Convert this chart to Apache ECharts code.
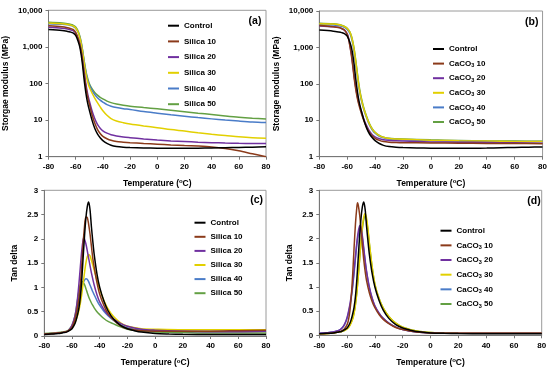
<!DOCTYPE html>
<html><head><meta charset="utf-8">
<script src="https://cdn.jsdelivr.net/npm/echarts@6/dist/echarts.min.js"></script>
<style>html,body{margin:0;padding:0;background:#fff}#c{width:550px;height:369px}</style>
</head><body><div id="c"></div><script>
// ---- Data: [temperature (°C), value] ----
const ctrlMod = [[-80,3000],[-70,2800],[-66,2650],[-64,2550],[-62,2400],[-60,2050],[-58,1350],[-57,1000],[-56,620],[-55,330],[-54,150],[-53,75],[-52,42],[-51,27],[-50,19],[-48,10],[-46,6],[-44,4.2],[-42,3.3],[-40,2.75],[-37,2.3],[-34,2.05],[-30,1.9],[-25,1.82],[-20,1.78],[-10,1.74],[0,1.71],[10,1.7],[20,1.7],[30,1.71],[40,1.73],[50,1.76],[60,1.79],[70,1.82],[80,1.86]];
const sil10Mod = [[-80,3800],[-70,3550],[-66,3350],[-64,3200],[-62,3000],[-60,2500],[-58,1600],[-57,1150],[-56,750],[-55,420],[-54,210],[-53,110],[-52,62],[-51,40],[-50,28],[-48,14],[-46,8.3],[-44,5.6],[-42,4.3],[-40,3.6],[-37,3.1],[-34,2.8],[-30,2.6],[-25,2.5],[-20,2.42],[-10,2.3],[0,2.2],[10,2.1],[20,2.02],[30,1.95],[40,1.85],[50,1.68],[60,1.45],[70,1.2],[80,1.0]];
const sil20Mod = [[-80,3450],[-70,3250],[-66,3100],[-64,2950],[-62,2800],[-60,2400],[-58,1600],[-57,1200],[-56,800],[-55,460],[-54,240],[-53,130],[-52,75],[-51,48],[-50,34],[-48,18],[-46,11],[-44,7.6],[-42,6],[-40,5.1],[-37,4.4],[-34,4.0],[-30,3.7],[-25,3.45],[-20,3.3],[-10,3.05],[0,2.85],[10,2.7],[20,2.6],[30,2.5],[40,2.42],[50,2.36],[60,2.32],[70,2.3],[80,2.3]];
const sil30Mod = [[-80,4500],[-70,4300],[-66,4100],[-64,3950],[-62,3750],[-60,3300],[-58,2400],[-57,1800],[-56,1250],[-55,750],[-54,420],[-53,240],[-52,150],[-51,105],[-50,80],[-48,55],[-46,40],[-44,30],[-42,23],[-40,18],[-37,13.5],[-34,11],[-30,9.5],[-25,8.5],[-20,7.8],[-10,6.9],[0,6.2],[10,5.5],[20,5.0],[30,4.5],[40,4.1],[50,3.8],[60,3.5],[70,3.3],[80,3.2]];
const sil40Mod = [[-80,4300],[-70,4150],[-66,4000],[-64,3850],[-62,3650],[-60,3250],[-58,2400],[-57,1850],[-56,1300],[-55,800],[-54,450],[-53,260],[-52,165],[-51,118],[-50,92],[-48,65],[-46,50],[-44,41],[-42,35],[-40,31],[-37,26.5],[-34,24],[-30,22],[-25,20.5],[-20,19.5],[-10,17.2],[0,15.5],[10,14],[20,12.8],[30,11.7],[40,10.8],[50,10],[60,9.4],[70,8.9],[80,8.6]];
const sil50Mod = [[-80,4700],[-70,4500],[-66,4300],[-64,4150],[-62,3950],[-60,3500],[-58,2600],[-57,2000],[-56,1400],[-55,850],[-54,480],[-53,280],[-52,180],[-51,130],[-50,100],[-48,72],[-46,57],[-44,48],[-42,42],[-40,38],[-37,33],[-34,30],[-30,27.5],[-25,25.5],[-20,24],[-10,22],[0,20.3],[10,18.6],[20,17],[30,15.5],[40,14.2],[50,13],[60,12],[70,11.3],[80,10.8]];
const ca10Mod = [[-80,4000],[-70,3700],[-66,3500],[-64,3300],[-62,3000],[-60,2300],[-59,1700],[-58,1050],[-57,600],[-56,300],[-55,140],[-54,75],[-53,45],[-52,30],[-50,16],[-48,9.5],[-46,6.3],[-44,4.6],[-42,3.7],[-40,3.2],[-37,2.8],[-34,2.6],[-30,2.5],[-25,2.45],[-20,2.42],[0,2.38],[20,2.35],[40,2.32],[60,2.3],[80,2.28]];
const ca20Mod = [[-80,3900],[-70,3700],[-66,3500],[-64,3300],[-62,3000],[-60,2350],[-59,1800],[-58,1100],[-57,650],[-56,330],[-55,160],[-54,85],[-53,50],[-52,33],[-50,18],[-48,10.5],[-46,7],[-44,5],[-42,4],[-40,3.5],[-37,3.1],[-34,2.9],[-30,2.8],[-25,2.72],[-20,2.68],[0,2.55],[20,2.5],[40,2.45],[60,2.4],[80,2.35]];
const ca30Mod = [[-80,4500],[-70,4400],[-66,4200],[-64,4000],[-62,3750],[-60,3300],[-58,2600],[-57,2000],[-56,1400],[-55,850],[-54,450],[-53,220],[-52,110],[-51,62],[-50,40],[-48,20],[-46,12],[-44,7.8],[-42,5.7],[-40,4.6],[-37,3.8],[-34,3.4],[-30,3.15],[-25,3.05],[-20,3.0],[0,2.85],[20,2.75],[40,2.68],[60,2.62],[80,2.6]];
const ca40Mod = [[-80,4200],[-70,4100],[-66,3950],[-64,3800],[-62,3550],[-60,3100],[-58,2400],[-57,1850],[-56,1250],[-55,750],[-54,400],[-53,200],[-52,100],[-51,58],[-50,37],[-48,19],[-46,11.3],[-44,7.3],[-42,5.4],[-40,4.4],[-37,3.65],[-34,3.3],[-30,3.05],[-25,2.95],[-20,2.9],[0,2.78],[20,2.7],[40,2.65],[60,2.62],[80,2.6]];
const ca50Mod = [[-80,4600],[-70,4450],[-66,4250],[-64,4050],[-62,3800],[-60,3350],[-58,2650],[-57,2050],[-56,1450],[-55,900],[-54,480],[-53,240],[-52,120],[-51,68],[-50,43],[-48,21],[-46,12.5],[-44,8],[-42,5.8],[-40,4.7],[-37,3.85],[-34,3.45],[-30,3.2],[-25,3.1],[-20,3.05],[0,2.9],[20,2.8],[40,2.72],[60,2.68],[80,2.65]];

const ctrlTan = [[-80,0.03],[-75,0.04],[-70,0.05],[-66,0.07],[-64,0.08],[-62,0.11],[-60,0.15],[-58,0.25],[-57,0.33],[-56,0.44],[-55,0.58],[-54,0.8],[-53,1.15],[-52,1.6],[-51,2.05],[-50,2.42],[-49,2.66],[-48,2.76],[-47,2.6],[-46,2.25],[-45,1.95],[-44,1.68],[-42,1.28],[-40,1.0],[-37,0.72],[-34,0.52],[-30,0.35],[-25,0.22],[-20,0.15],[-15,0.11],[-10,0.08],[0,0.05],[10,0.04],[20,0.035],[40,0.03],[60,0.03],[80,0.03]];
const sil10Tan = [[-80,0.04],[-70,0.06],[-64,0.09],[-62,0.12],[-60,0.18],[-58,0.33],[-57,0.45],[-56,0.6],[-55,0.78],[-54,1.05],[-53,1.45],[-52,1.9],[-51,2.25],[-50,2.45],[-49,2.44],[-48,2.3],[-47,2.1],[-46,1.85],[-45,1.6],[-44,1.42],[-42,1.1],[-40,0.86],[-37,0.63],[-34,0.46],[-30,0.33],[-25,0.21],[-20,0.15],[-10,0.11],[0,0.1],[20,0.1],[40,0.1],[60,0.11],[80,0.12]];
const sil20Tan = [[-80,0.04],[-70,0.06],[-64,0.09],[-62,0.13],[-60,0.22],[-58,0.4],[-57,0.55],[-56,0.78],[-55,1.08],[-54,1.42],[-53,1.75],[-52,1.98],[-51.5,2.03],[-51,2.0],[-50,1.9],[-49,1.76],[-48,1.6],[-47,1.45],[-46,1.3],[-44,1.05],[-42,0.85],[-40,0.7],[-37,0.55],[-34,0.44],[-30,0.35],[-25,0.26],[-20,0.2],[-10,0.14],[0,0.12],[20,0.1],[40,0.09],[60,0.09],[80,0.1]];
const sil30Tan = [[-80,0.04],[-70,0.06],[-64,0.09],[-62,0.12],[-60,0.17],[-58,0.27],[-56,0.42],[-55,0.53],[-54,0.67],[-53,0.85],[-52,1.08],[-51,1.3],[-50,1.5],[-49,1.63],[-48,1.68],[-47,1.65],[-46,1.56],[-45,1.46],[-44,1.36],[-42,1.15],[-40,0.96],[-37,0.73],[-34,0.56],[-30,0.4],[-25,0.27],[-20,0.2],[-10,0.15],[0,0.14],[20,0.13],[40,0.13],[60,0.13],[80,0.13]];
const sil40Tan = [[-80,0.04],[-70,0.06],[-64,0.09],[-62,0.13],[-60,0.2],[-58,0.33],[-57,0.43],[-56,0.56],[-55,0.72],[-54,0.88],[-53,1.0],[-52,1.09],[-51,1.15],[-50,1.18],[-49,1.17],[-48,1.12],[-47,1.05],[-46,0.98],[-45,0.91],[-44,0.85],[-42,0.73],[-40,0.63],[-37,0.51],[-34,0.42],[-30,0.32],[-25,0.23],[-20,0.17],[-10,0.12],[0,0.11],[20,0.1],[40,0.1],[60,0.1],[80,0.1]];
const sil50Tan = [[-80,0.05],[-70,0.07],[-64,0.1],[-62,0.14],[-60,0.22],[-58,0.4],[-57,0.55],[-56,0.75],[-55,0.93],[-54,1.05],[-53,1.11],[-52.5,1.12],[-52,1.11],[-51,1.06],[-50,0.98],[-49,0.89],[-48,0.81],[-47,0.74],[-46,0.68],[-45,0.63],[-44,0.58],[-42,0.5],[-40,0.44],[-37,0.36],[-34,0.3],[-30,0.25],[-25,0.19],[-20,0.14],[-10,0.1],[0,0.08],[20,0.07],[40,0.06],[60,0.06],[80,0.06]];
const ca10Tan = [[-80,0.03],[-70,0.05],[-66,0.07],[-64,0.09],[-62,0.13],[-60,0.22],[-59,0.32],[-58,0.5],[-57,0.8],[-56,1.25],[-55,1.8],[-54,2.3],[-53,2.65],[-52.5,2.74],[-52,2.7],[-51,2.5],[-50,2.2],[-49,1.86],[-48,1.56],[-47,1.32],[-46,1.13],[-44,0.88],[-42,0.7],[-40,0.57],[-37,0.43],[-34,0.33],[-30,0.24],[-25,0.16],[-20,0.12],[-10,0.07],[0,0.05],[20,0.04],[40,0.04],[60,0.04],[80,0.04]];
const ca20Tan = [[-80,0.04],[-70,0.07],[-66,0.1],[-64,0.14],[-62,0.22],[-60,0.37],[-58,0.64],[-57,0.82],[-56,1.05],[-55,1.33],[-54,1.63],[-53,1.92],[-52,2.14],[-51,2.26],[-50.5,2.27],[-50,2.22],[-49,2.05],[-48,1.8],[-47,1.55],[-46,1.33],[-44,1.0],[-42,0.77],[-40,0.61],[-37,0.46],[-34,0.35],[-30,0.25],[-25,0.17],[-20,0.12],[-10,0.07],[0,0.05],[20,0.04],[40,0.04],[60,0.04],[80,0.04]];
const ca30Tan = [[-80,0.03],[-70,0.05],[-66,0.07],[-64,0.08],[-62,0.1],[-60,0.13],[-58,0.2],[-56,0.33],[-55,0.45],[-54,0.63],[-53,0.88],[-52,1.2],[-51,1.58],[-50,1.95],[-49,2.25],[-48,2.45],[-47,2.52],[-46,2.42],[-45,2.2],[-44,1.92],[-42,1.42],[-40,1.06],[-37,0.76],[-34,0.56],[-30,0.39],[-25,0.25],[-20,0.17],[-10,0.09],[0,0.06],[20,0.045],[40,0.04],[60,0.04],[80,0.04]];
const ca40Tan = [[-80,0.04],[-70,0.07],[-66,0.1],[-64,0.14],[-62,0.21],[-60,0.35],[-58,0.6],[-57,0.78],[-56,1.0],[-55,1.28],[-54,1.58],[-53,1.87],[-52,2.08],[-51,2.2],[-50.5,2.21],[-50,2.17],[-49,2.0],[-48,1.76],[-47,1.52],[-46,1.3],[-44,0.98],[-42,0.76],[-40,0.6],[-37,0.45],[-34,0.35],[-30,0.25],[-25,0.17],[-20,0.12],[-10,0.07],[0,0.05],[20,0.045],[40,0.04],[60,0.04],[80,0.04]];
const ca50Tan = [[-80,0.03],[-70,0.05],[-66,0.07],[-64,0.08],[-62,0.1],[-60,0.14],[-58,0.21],[-56,0.35],[-55,0.47],[-54,0.65],[-53,0.9],[-52,1.22],[-51,1.58],[-50,1.93],[-49,2.21],[-48,2.4],[-47,2.47],[-46,2.38],[-45,2.17],[-44,1.9],[-42,1.41],[-40,1.05],[-37,0.76],[-34,0.56],[-30,0.39],[-25,0.25],[-20,0.17],[-10,0.09],[0,0.06],[20,0.045],[40,0.04],[60,0.04],[80,0.04]];

const silicaNames = ['Control','Silica 10','Silica 20','Silica 30','Silica 40','Silica 50'];
const caco3Names = ['Control','CaCO3 10','CaCO3 20','CaCO3 30','CaCO3 40','CaCO3 50'];
const xTicks = {min:-80, max:80, interval:20};
const modTicks = {min:1, max:10000};
const tanTicks = {min:0, max:3, interval:0.5};
const panelLabels = ['(a)','(b)','(c)','(d)'];
const yTitles = ['Storgae modulus (MPa)','Storage modulus (MPa)','Tan delta','Tan delta'];

const COLORS = ['#000000','#8B3A1A','#7030A0','#E2D000','#4A7CC8','#63A043'];
const FONT = '"Liberation Sans", Arial, sans-serif';

const chart = echarts.init(document.getElementById('c'), null, {renderer:'canvas'});

const grids = [
  {left:44.3, top:10.3, width:221.7, height:146.4},
  {left:319.3, top:11, width:224, height:145.7},
  {left:44.3, top:190.3, width:221.7, height:146.7},
  {left:319.3, top:190.3, width:222.4, height:145}
].map(g => Object.assign({show:true, borderColor:'#9a9a9a', borderWidth:1, backgroundColor:'transparent'}, g));

const lineSt = {color:'#777', width:1};
const axisTick = {show:true, inside:false, length:3, lineStyle:lineSt};
const axisLabel = {fontFamily:FONT, fontWeight:'bold', fontSize:8, color:'#000'};

const xAxes = [0,1,2,3].map(i => ({
  gridIndex:i, type:'value', min:xTicks.min, max:xTicks.max, interval:xTicks.interval,
  name:'Temperature ({sup|o}C)', nameLocation:'middle', nameGap:22,
  nameTextStyle:{fontFamily:FONT, fontWeight:'bold', fontSize:8.5, color:'#000', lineHeight:10,
    rich:{sup:{fontFamily:FONT, fontWeight:'bold', fontSize:6, color:'#000', verticalAlign:'top', lineHeight:10}}},
  axisLine:{show:true, onZero:false, lineStyle:lineSt}, axisTick, axisLabel:Object.assign({margin:6}, axisLabel), splitLine:{show:false}
}));

const yAxes = [0,1,2,3].map(i => {
  const base = {
    gridIndex:i, name:yTitles[i], nameLocation:'middle',
    nameGap: i < 2 ? 38.5 : 25,
    nameTextStyle:{fontFamily:FONT, fontWeight:'bold', fontSize:8.5, color:'#000'},
    axisLine:{show:true, onZero:false, lineStyle:lineSt}, axisTick,
    axisLabel:Object.assign({margin:6}, axisLabel), splitLine:{show:false}
  };
  if (i < 2) {
    return Object.assign(base, {type:'log', logBase:10, min:modTicks.min, max:modTicks.max,
      axisLabel:Object.assign({margin:6, formatter:v => Number(v).toLocaleString('en-US')}, axisLabel)});
  }
  return Object.assign(base, {type:'value', min:tanTicks.min, max:tanTicks.max, interval:tanTicks.interval});
});

const panelData = [
  [ctrlMod, sil10Mod, sil20Mod, sil30Mod, sil40Mod, sil50Mod],
  [ctrlMod, ca10Mod, ca20Mod, ca30Mod, ca40Mod, ca50Mod],
  [ctrlTan, sil10Tan, sil20Tan, sil30Tan, sil40Tan, sil50Tan],
  [ctrlTan, ca10Tan, ca20Tan, ca30Tan, ca40Tan, ca50Tan]
];
const panelNames = [silicaNames, caco3Names, silicaNames, caco3Names];

const series = [];
panelData.forEach((arr, p) => {
  arr.forEach((d, k) => {
    series.push({
      name: panelNames[p][k], type:'line', xAxisIndex:p, yAxisIndex:p, data:d,
      smooth:0.3, symbol:'none', clip:true,
      lineStyle:{width:1.5, color:COLORS[k]}, itemStyle:{color:COLORS[k]},
      z: 2 + (5 - k)
    });
  });
});

function legend(names, left, top, gap) {
  return {
    orient:'vertical', left, top, itemGap:gap, itemWidth:11, itemHeight:2, icon:'rect',
    data:names, selectedMode:false,
    formatter: n => n.replace('CaCO3', 'CaCO{s|3}'),
    textStyle:{fontFamily:FONT, fontWeight:'bold', fontSize:8, color:'#000', lineHeight:10,
      rich:{s:{fontFamily:FONT, fontWeight:'bold', fontSize:5.5, color:'#000', verticalAlign:'bottom', lineHeight:8}}}
  };
}

const labelPos = [[255,20.7],[531.7,21.7],[256.7,200],[534,201]];
const graphic = panelLabels.map((t, i) => ({
  type:'text', x:labelPos[i][0], y:labelPos[i][1], silent:true,
  style:{text:t, font:'bold 10.5px ' + FONT, fill:'#000', textAlign:'center', textVerticalAlign:'middle', verticalAlign:'middle'}
}));

chart.setOption({
  animation:false,
  backgroundColor:'#fff',
  grid:grids, xAxis:xAxes, yAxis:yAxes, series,
  legend:[
    legend(silicaNames, 163, 15.7, 5.7),
    legend(caco3Names, 428, 39, 4.6),
    legend(silicaNames, 189.5, 212.7, 4.1),
    legend(caco3Names, 435.5, 220.7, 4.66)
  ],
  graphic
});
</script></body></html>
